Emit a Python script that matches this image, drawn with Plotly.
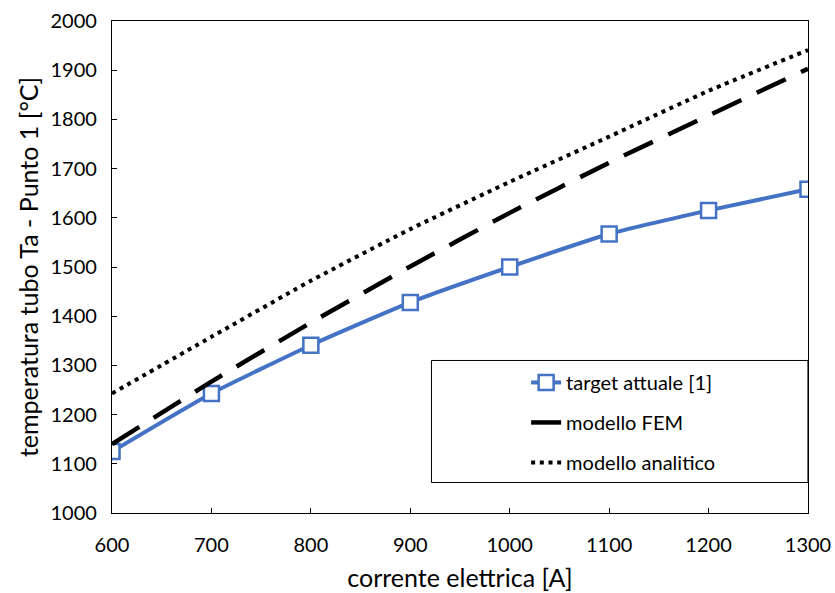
import plotly.graph_objects as go

current = [600, 700, 800, 900, 1000, 1100, 1200, 1300]
target_attuale = [1125, 1243, 1341, 1428, 1500, 1567, 1615, 1658]
modello_fem = [1140, 1267, 1387, 1501, 1610, 1712, 1808, 1903]
modello_analitico = [1243, 1358, 1472, 1577, 1673, 1765, 1858, 1941]

x_ticks = [600, 700, 800, 900, 1000, 1100, 1200, 1300]
y_ticks = list(range(1000, 2001, 100))

FONT = "Lato"
fig = go.Figure()
fig.add_trace(go.Scatter(
    x=current, y=target_attuale, name="target attuale [1]", legendgroup="a",
    mode="lines+markers", line=dict(color="#4472C4", width=4, shape="spline", smoothing=0.5),
    marker=dict(symbol="square", size=15, color="white", line=dict(color="#4472C4", width=2.5)),
))
fig.add_trace(go.Scatter(
    x=current, y=modello_fem, name="modello FEM", legendgroup="b",
    mode="lines", line=dict(color="black", width=4.5, dash="32px,17px", shape="spline", smoothing=0.5),
))
fig.add_trace(go.Scatter(
    x=current, y=modello_analitico, name="modello analitico", legendgroup="c",
    mode="lines", line=dict(color="black", width=4, dash="4px,4.7px", shape="spline", smoothing=0.5),
))

fig.add_shape(type="rect", xref="paper", yref="paper", x0=0.459, x1=0.9999, y0=0.062, y1=0.31,
              line=dict(color="black", width=1), fillcolor="white", layer="below")

fig.update_layout(
    width=835, height=593,
    margin=dict(l=112, r=27, t=21, b=80, autoexpand=False),
    plot_bgcolor="white", paper_bgcolor="white",
    font=dict(family=FONT, size=20, color="black"),
    showlegend=True,
    legend=dict(x=0.595, y=0.305, xanchor="left", yanchor="top", bgcolor="rgba(0,0,0,0)",
                font=dict(size=20), tracegroupgap=11),
    xaxis=dict(range=[600, 1300], tickvals=x_ticks, ticks="inside", ticklen=5, tickcolor="black",
               showline=True, linecolor="black", linewidth=1.2, mirror=True, showgrid=False, zeroline=False,
               automargin=False, ticklabelstandoff=14,
               title=dict(text="corrente elettrica [A]", font=dict(size=25), standoff=14),
               tickfont=dict(size=20)),
    yaxis=dict(range=[1000, 2000], tickvals=y_ticks, ticks="inside", ticklen=5, tickcolor="black",
               showline=True, linecolor="black", linewidth=1.2, mirror=True, showgrid=False, zeroline=False,
               automargin=False, ticklabelstandoff=10,
               title=dict(text="temperatura tubo Ta - Punto 1 [°C]", font=dict(size=25), standoff=4),
               tickfont=dict(size=20)),
)

fig.write_html("out.html")
